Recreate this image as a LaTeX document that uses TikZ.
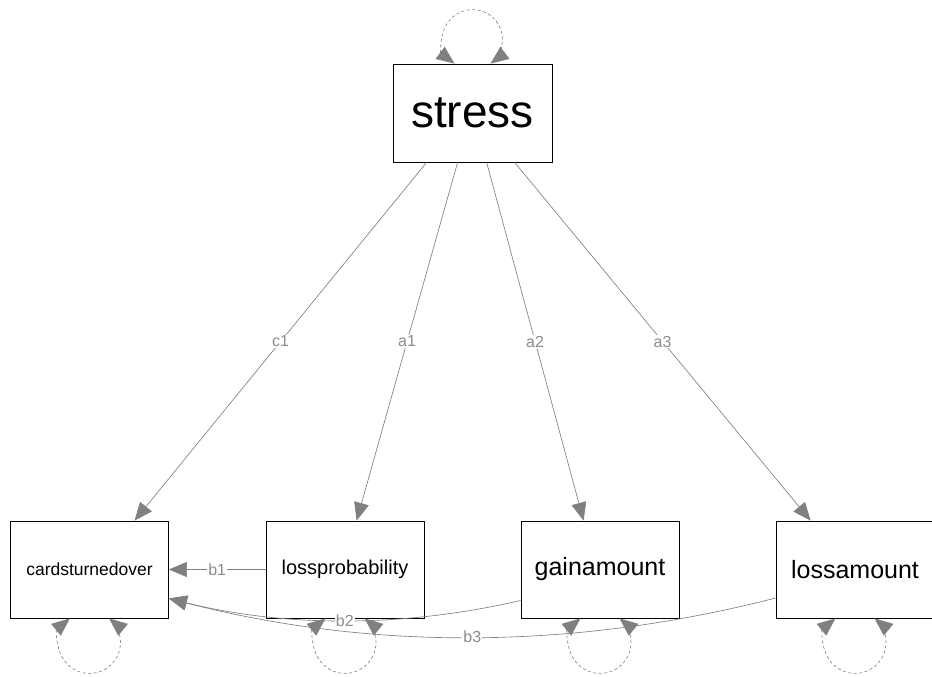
\documentclass[tikz,border=0pt]{standalone}
\usepackage{fontspec}
\setmainfont{Liberation Sans}
\usetikzlibrary{arrows.meta}
\definecolor{edgegray}{HTML}{808080}
\definecolor{labgray}{HTML}{8C8C8C}
\definecolor{loopgray}{HTML}{8A8A8A}
\begin{document}
\begin{tikzpicture}[x=1pt,y=1pt,
  var/.style={draw=black, line width=0.8pt, fill=white, minimum width=158pt, minimum height=97pt, inner sep=0pt},
  regr/.style={draw=edgegray, line width=0.65pt, -{Triangle[length=18pt,width=15pt]}, color=edgegray},
  varloop/.style={draw=loopgray, line width=0.6pt, dash pattern=on 3pt off 2.5pt, {Triangle[length=18pt,width=15pt]}-{Triangle[length=18pt,width=15pt]}, color=edgegray},
  elab/.style={fill=white, text=labgray, font=\fontsize{16}{16}\selectfont, inner sep=1pt}
]
\useasboundingbox (0,0) rectangle (932,-677);
\fill[white] (0,0) rectangle (932,-677);

\node[var, minimum width=159pt, minimum height=98pt, font=\fontsize{46}{46}\selectfont] (stress) at (472.5,-113) {stress};
\node[var, font=\fontsize{17.5}{17.5}\selectfont] (cto) at (89.5,-569.5) {cardsturnedover};
\node[var, font=\fontsize{20}{20}\selectfont] (lp) at (345,-569.5) {lossprobability};
\node[var, font=\fontsize{25}{25}\selectfont] (ga) at (600,-569.5) {gainamount};
\node[var, font=\fontsize{25}{25}\selectfont] (la) at (855,-569.5) {lossamount};

% regressions from stress
\draw[regr] ([xshift=34pt]stress.south west) -- node[elab]{c1} ([xshift=124.5pt]cto.north west);
\draw[regr] ([xshift=65pt]stress.south west) -- node[elab]{a1} ([xshift=91pt]lp.north west);
\draw[regr] ([xshift=94pt]stress.south west) -- node[elab]{a2} ([xshift=63pt]ga.north west);
\draw[regr] ([xshift=122pt]stress.south west) -- node[elab]{a3} ([xshift=35pt]la.north west);

% mediators to outcome
\draw[regr] (lp.west) -- node[elab]{b1} (cto.east);
\draw[regr] ([yshift=-31pt]ga.west) .. controls +(-117,-27) and +(117,-29) .. node[elab]{b2} ([yshift=-29pt]cto.east);
\draw[regr] ([yshift=-28.5pt]la.west) .. controls +(-202,-52) and +(202,-52) .. node[elab]{b3} ([yshift=-29pt]cto.east);

% variances
\draw[varloop] ([xshift=-18pt]stress.north) arc[start angle=233.13, end angle=-53.13, radius=30pt];
\draw[varloop] ([xshift=-19.6pt]cto.south) arc[start angle=129.2, end angle=410.8, radius=31pt];
\draw[varloop] ([xshift=-19.6pt]lp.south) arc[start angle=129.2, end angle=410.8, radius=31pt];
\draw[varloop] ([xshift=-19.6pt]ga.south) arc[start angle=129.2, end angle=410.8, radius=31pt];
\draw[varloop] ([xshift=-19.6pt]la.south) arc[start angle=129.2, end angle=410.8, radius=31pt];
\end{tikzpicture}
\end{document}
